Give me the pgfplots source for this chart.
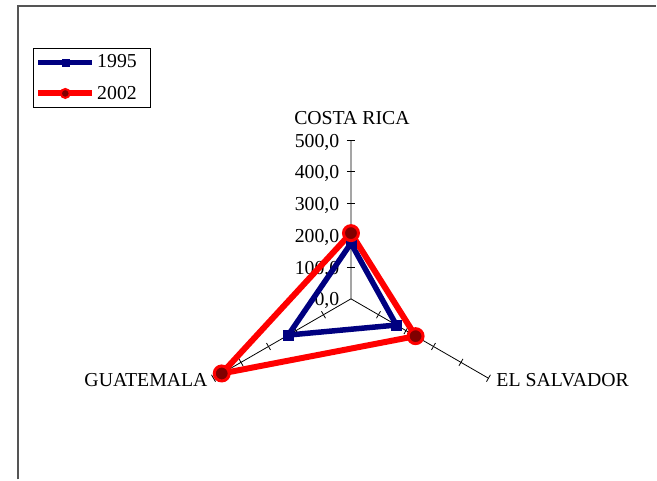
\documentclass[border=0pt]{standalone}
\usepackage{fontspec}
\setmainfont{Liberation Serif}
\usepackage{pgfplots}
\pgfplotsset{compat=1.18}
\definecolor{navyb}{RGB}{0,0,128}
\definecolor{redl}{RGB}{255,0,0}
\definecolor{darkredf}{RGB}{128,0,0}
\definecolor{framegray}{RGB}{85,85,85}
\newcommand{\chfont}{\fontsize{19.8bp}{23bp}\selectfont}
\begin{document}
\begin{tikzpicture}
\begin{axis}[
  width=657bp, height=480bp, scale only axis,
  hide axis, clip=false,
  xmin=-1105.35, xmax=960.69,
  ymin=-568.24, ymax=941.19,
  legend style={at={(rel axis cs:0.0502,0.9)}, anchor=north west,
    draw=black, line width=0.8bp, fill=white,
    inner xsep=2bp, inner ysep=4.5bp,
    nodes={inner sep=2bp, text depth=0.2em},
    row sep=12bp, font=\chfont},
  legend cell align=left,
  legend image code/.code={\draw[mark repeat=2,mark phase=2,#1] plot coordinates {(0bp,0bp) (27bp,0bp) (54bp,0bp)};},
]
% bounding box
\path (rel axis cs:0,0) rectangle (rel axis cs:1,1);
% frame
\draw[framegray, line width=2bp] (rel axis cs:{18.3/657},0) -- (rel axis cs:{18.3/657},{1-6/480}) -- (rel axis cs:1,{1-6/480});
% spokes
\addplot[black, line width=0.8bp, no marks, data cs=polar, forget plot] coordinates {(90,500) (0,0) (-30,500)};
\addplot[black, line width=0.8bp, no marks, data cs=polar, forget plot] coordinates {(0,0) (210,500)};
\pgfplotsinvokeforeach{100,200,300,400,500}{
  \draw[black, line width=0.8bp] (axis cs:-12.6,#1) -- (axis cs:12.6,#1);
  \draw[black, line width=0.8bp] (axis cs:{0.866*#1+6.3},{-0.5*#1+10.9}) -- (axis cs:{0.866*#1-6.3},{-0.5*#1-10.9});
  \draw[black, line width=0.8bp] (axis cs:{-0.866*#1-6.3},{-0.5*#1+10.9}) -- (axis cs:{-0.866*#1+6.3},{-0.5*#1-10.9});
}
\pgfplotsinvokeforeach{0,100,200,300,400,500}{
  \node[anchor=base east, inner sep=0pt, font=\chfont] at ([xshift=-11.5bp,yshift=-7bp]axis cs:0,#1) {#1,0};
}
% category labels
\node[anchor=base, inner sep=0pt, font=\chfont] at (rel axis cs:{352.5/657},{1-125/480}) {COSTA RICA};
\node[anchor=base east, inner sep=0pt, font=\chfont] at (rel axis cs:{208/657},{1-387/480}) {GUATEMALA};
\node[anchor=base west, inner sep=0pt, font=\chfont] at (rel axis cs:{497/657},{1-387/480}) {EL SALVADOR};
% data
\addplot[navyb, line width=5.5bp, mark=square*, mark size=5bp, mark options={fill=navyb, draw=navyb, line width=0.5bp}, data cs=polar, forget plot]
  coordinates {(90,175) (-30,165) (210,228)} -- cycle;
\addplot[redl, line width=6bp, mark=*, mark size=7.5bp, mark options={fill=darkredf, draw=redl, line width=3bp}, data cs=polar, forget plot]
  coordinates {(90,207) (-30,235) (210,470)} -- cycle;
% legend
\addlegendimage{navyb, line width=5.5bp, mark=square*, mark size=3.5bp, mark options={fill=navyb, draw=navyb, line width=0.5bp}}
\addlegendentry{1995\rule{10bp}{0pt}}
\addlegendimage{redl, line width=6bp, mark=*, mark size=4.5bp, mark options={fill=darkredf, draw=redl, line width=2bp}}
\addlegendentry{2002\rule{10bp}{0pt}}
\end{axis}
\end{tikzpicture}
\end{document}
